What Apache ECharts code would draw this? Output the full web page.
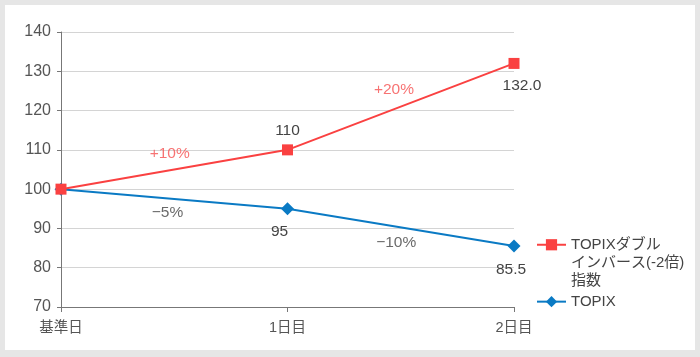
<!DOCTYPE html>
<html><head><meta charset="utf-8">
<script src="https://cdn.jsdelivr.net/npm/echarts@6/dist/echarts.min.js"></script>
<style>
html,body{margin:0;padding:0;background:#e6e6e6;}
#c{position:absolute;left:5px;top:5px;width:690px;height:345px;background:#fff;}
</style></head>
<body><div id="c"></div>
<script>
const categories = ['基準日', '1日目', '2日目'];
const yTicks = [70, 140, 10];
const inverseName = 'TOPIXダブル\nインバース(-2倍)\n指数';
const topixName = 'TOPIX';
const inverseValues = [100, 110, 132];
const inverseLabels = ['', '110', '132.0'];
const topixValues = [100, 95, 85.5];
const topixLabels = ['', '95', '85.5'];
// change annotations: [x position between categories (0..2), y value, text]
const inverseChanges = [[0.48, 109, '+10%'], [1.47, 125.2, '+20%']];
const topixChanges = [[0.47, 94, '−5%'], [1.48, 86.3, '−10%']];

const RED = '#fa4141', BLUE = '#0a7ac4';
const FONT = '"Liberation Sans", Arial, "Noto Sans CJK JP", sans-serif';

const chart = echarts.init(document.getElementById('c'));
const redPos = [null, {position: 'top', distance: 6}, {position: 'bottom', offset: [8, 4]}];
const bluePos = [null, {position: 'bottom', offset: [-8, 4]}, {position: 'bottom', offset: [-3, 4]}];

function mk(vals, labs, pos) {
  return vals.map((v, i) => ({
    value: v,
    label: labs[i] ? Object.assign({show: true, formatter: labs[i]}, pos[i]) : {show: false}
  }));
}

chart.setOption({
  animation: false,
  textStyle: {fontFamily: FONT},
  grid: {left: 56, right: 181, top: 27, bottom: 43},
  legend: {
    orient: 'vertical', left: 526, top: 189,
    itemWidth: 29, itemHeight: 14, itemGap: 2, padding: 5,
    formatter: n => n === inverseName ? '\n\n' + n : n,
    textStyle: {fontSize: 15, color: '#444', lineHeight: 18.3, fontFamily: FONT},
    data: [inverseName, topixName]
  },
  xAxis: [{
    type: 'category', data: categories, boundaryGap: false,
    axisLine: {lineStyle: {color: '#777', width: 1}},
    axisTick: {show: true, length: 5, lineStyle: {color: '#777'}},
    axisLabel: {fontSize: 14.5, color: '#555', margin: 14, fontFamily: FONT},
    splitLine: {show: false}
  }, {
    type: 'value', min: 0, max: 2, show: false
  }],
  yAxis: {
    type: 'value', min: yTicks[0], max: yTicks[1], interval: yTicks[2],
    axisLine: {show: true, lineStyle: {color: '#777', width: 1}},
    axisTick: {show: true, length: 4, lineStyle: {color: '#777'}},
    axisLabel: {fontSize: 16, color: '#555', margin: 10, fontFamily: FONT},
    splitLine: {lineStyle: {color: '#d4d4d4', width: 1}}
  },
  series: [{
    name: inverseName, type: 'line', data: mk(inverseValues, inverseLabels, redPos), z: 4,
    symbol: 'rect', symbolSize: 11, color: RED,
    lineStyle: {color: RED, width: 2}, itemStyle: {color: RED},
    label: {fontSize: 15.5, color: '#444', fontFamily: FONT}
  }, {
    name: topixName, type: 'line', data: mk(topixValues, topixLabels, bluePos), z: 3,
    symbol: 'diamond', symbolSize: 13, color: BLUE,
    lineStyle: {color: BLUE, width: 2}, itemStyle: {color: BLUE},
    label: {fontSize: 15.5, color: '#444', fontFamily: FONT}
  }, {
    type: 'scatter', xAxisIndex: 1, symbolSize: 0, silent: true,
    data: inverseChanges.map(d => ({value: [d[0], d[1]], label: {formatter: d[2]}})),
    label: {show: true, position: 'inside', fontSize: 15.5, color: '#f55050', fontFamily: FONT}
  }, {
    type: 'scatter', xAxisIndex: 1, symbolSize: 0, silent: true,
    data: topixChanges.map(d => ({value: [d[0], d[1]], label: {formatter: d[2]}})),
    label: {show: true, position: 'inside', fontSize: 15.5, color: '#444', fontFamily: FONT}
  }]
});
</script></body></html>
